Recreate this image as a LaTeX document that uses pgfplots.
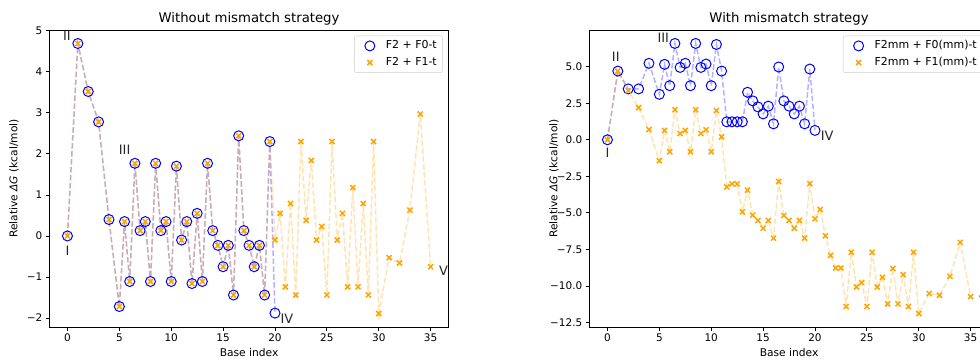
\documentclass[border=0pt]{standalone}
\usepackage{pgfplots}
\usepackage{pgfplotstable}
\pgfplotsset{compat=1.18}
\usepackage{fontspec}
\setmainfont{DejaVu Sans}
\definecolor{mplorange}{RGB}{255,165,0}
\definecolor{mplblue}{RGB}{0,0,255}

\pgfplotstableread{
x y
0 0
1 4.69
2 3.52
3 2.78
4 0.40
5 -1.72
5.5 0.35
6 -1.11
6.5 1.77
7 0.13
7.5 0.35
8 -1.11
8.5 1.77
9 0.13
9.5 0.35
10 -1.11
10.5 1.70
11 -0.10
11.5 0.35
12 -1.16
12.5 0.55
13 -1.11
13.5 1.77
14 0.13
14.5 -0.23
15 -0.75
15.5 -0.23
16 -1.44
16.5 2.44
17 0.13
17.5 -0.23
18 -0.75
18.5 -0.23
19 -1.44
19.5 2.30
20 -1.88
}\LB

\pgfplotstableread{
x y
0 0
1 4.69
2 3.52
3 2.78
4 0.40
5 -1.72
5.5 0.35
6 -1.11
6.5 1.77
7 0.13
7.5 0.35
8 -1.11
8.5 1.77
9 0.13
9.5 0.35
10 -1.11
10.5 1.70
11 -0.10
11.5 0.35
12 -1.16
12.5 0.55
13 -1.11
13.5 1.77
14 0.13
14.5 -0.23
15 -0.75
15.5 -0.23
16 -1.44
16.5 2.44
17 0.13
17.5 -0.23
18 -0.75
18.5 -0.23
19 -1.44
19.5 2.30
20 -0.10
20.5 0.55
21 -1.24
21.5 0.79
22 -1.44
22.5 2.30
23 0.38
23.5 1.84
24 -0.10
24.5 0.23
25 -1.44
25.5 2.30
26 -0.10
26.5 0.55
27 -1.24
27.5 1.18
28 -1.24
28.5 0.79
29 -1.44
29.5 2.30
30 -1.89
31 -0.53
32 -0.66
33 0.63
34 2.97
35 -0.75
}\LO

\pgfplotstableread{
x y
0 0
1 4.70
2 3.48
3 3.48
4 5.23
5 3.11
5.5 5.16
6 3.70
6.5 6.59
7 4.95
7.5 5.23
8 3.70
8.5 6.59
9 4.95
9.5 5.18
10 3.70
10.5 6.52
11 4.70
11.5 1.23
12 1.23
12.5 1.23
13 1.23
13.5 3.25
14 2.66
14.5 2.25
15 1.77
15.5 2.30
16 1.09
16.5 4.98
17 2.66
17.5 2.30
18 1.77
18.5 2.30
19 1.09
19.5 4.84
20 0.64
}\RB

\pgfplotstableread{
x y
0 0
1 4.70
2 3.36
3 2.20
4 0.70
5 -1.43
5.5 0.64
6 -0.82
6.5 2.05
7 0.43
7.5 0.64
8 -0.82
8.5 2.05
9 0.43
9.5 0.68
10 -0.82
10.5 2.00
11 0.20
11.5 -3.23
12 -3.02
12.5 -3.02
13 -4.93
13.5 -3.45
14 -5.16
14.5 -5.52
15 -6.05
15.5 -5.52
16 -6.73
16.5 -2.86
17 -5.18
17.5 -5.52
18 -6.05
18.5 -5.52
19 -6.73
19.5 -3.00
20 -5.41
20.5 -4.77
21 -6.57
21.5 -7.91
22 -8.77
22.5 -8.77
23 -11.41
23.5 -7.70
24 -10.07
24.5 -9.77
25 -11.41
25.5 -7.70
26 -10.07
26.5 -9.41
27 -11.23
27.5 -8.80
28 -11.23
28.5 -9.23
29 -11.41
29.5 -7.70
30 -11.89
31 -10.52
32 -10.64
33 -9.34
34 -7.02
35 -10.73
}\RO

\tikzset{rn/.style={font=\fontsize{13}{15}\selectfont, text=black!85, anchor=center, inner sep=0pt}}

\pgfplotsset{
  /pgf/number format/assume math mode=true,
  base/.style={
    scale only axis, width=399.5bp, height=297bp,
    xmin=-1.75, xmax=36.75,
    xtick={0,5,...,35},
    tick align=outside, major tick length=3.5bp,
    xtick pos=left, ytick pos=left,
    axis line style={line width=0.8bp},
    every tick/.style={black, line width=0.8bp},
    tick label style={font=\fontsize{10.5}{12}\selectfont},
    every axis title/.style={at={(0.5,1)}, anchor=base, yshift=7.5bp, font=\fontsize{13.3}{15}\selectfont},
    every axis x label/.style={at={(0.5,0)}, anchor=base, yshift=-29bp, font=\fontsize{10.7}{12}\selectfont},
    every axis y label/.style={at={(axis description cs:-0.088,0.5)}, rotate=90, anchor=center, font=\fontsize{10.7}{12}\selectfont},
    xlabel={Base index},
    ylabel={Relative \textit{ΔG} (kcal/mol)},
    legend style={at={(1,1)}, anchor=north east, xshift=-6.3bp, yshift=-5.7bp,
      draw=black!20, rounded corners=2bp, font=\fontsize{11}{12}\selectfont,
      inner xsep=3.5bp, inner ysep=3bp, row sep=2.7bp,
      nodes={text height=8.5bp, text depth=2.5bp, inner ysep=1.5bp}},
    legend cell align=left,
    legend image code/.code={\path[draw=none,fill=none] (0bp,-4bp) rectangle (26bp,4bp); \draw[mark repeat=2,mark phase=2,##1] plot coordinates {(0bp,0bp)(12bp,0bp)(24bp,0bp)};},
    clip mode=individual,
  },
  bline/.style={mplblue, opacity=0.3, line width=1.5bp, dash pattern=on 5.55bp off 2.4bp, no marks, forget plot},
  oline/.style={mplorange, opacity=0.3, line width=1.5bp, dash pattern=on 5.55bp off 2.4bp, no marks, forget plot},
  bmark/.style={only marks, mark=o, mark size=5bp, mplblue, mark options={line width=1bp, fill=none}},
  omark/.style={only marks, mark=x, mark size=3.6bp, mplorange, mark options={line width=1.5bp}},
}

\begin{document}
\begin{tikzpicture}
\useasboundingbox (0,0) rectangle (980bp,360bp);
\clip (0,0) rectangle (980bp,360bp);
\begin{axis}[base, at={(49.3bp,33bp)}, anchor=south west,
  title={Without mismatch strategy},
  ymin=-2.219, ymax=5.019,
  ytick={-2,-1,0,1,2,3,4,5},
  yticklabels={−2,−1,0,1,2,3,4,5},
]
\addplot[bline] table {\LB};
\addplot[oline] table {\LO};
\addplot[bmark] table {\LB};
\addlegendentry{F2 + F0-t}
\addplot[omark] table {\LO};
\addlegendentry{F2 + F1-t}
\node[rn] at (axis cs:0,-0.35) {I};
\node[rn] at (axis cs:-0.06,4.87) {II};
\node[rn] at (axis cs:5.51,2.11) {III};
\node[rn] at (axis cs:21.15,-2.03) {IV};
\node[rn] at (axis cs:36.24,-0.86) {V};
\end{axis}

\begin{axis}[base, at={(589.3bp,33bp)}, anchor=south west,
  title={With mismatch strategy},
  ymin=-12.81, ymax=7.51,
  ytick={-12.5,-10,-7.5,-5,-2.5,0,2.5,5},
  yticklabels={−12.5,−10.0,−7.5,−5.0,−2.5,0.0,2.5,5.0},
]
\addplot[bline] table {\RB};
\addplot[oline] table {\RO};
\addplot[bmark] table {\RB};
\addlegendentry{F2mm + F0(mm)-t}
\addplot[omark] table {\RO};
\addlegendentry{F2mm + F1(mm)-t}
\node[rn] at (axis cs:0,-0.89) {I};
\node[rn] at (axis cs:0.80,5.66) {II};
\node[rn] at (axis cs:5.38,6.99) {III};
\node[rn] at (axis cs:21.18,0.29) {IV};
\node[rn] at (axis cs:36.24,-11.05) {V};
\end{axis}
\end{tikzpicture}
\end{document}
